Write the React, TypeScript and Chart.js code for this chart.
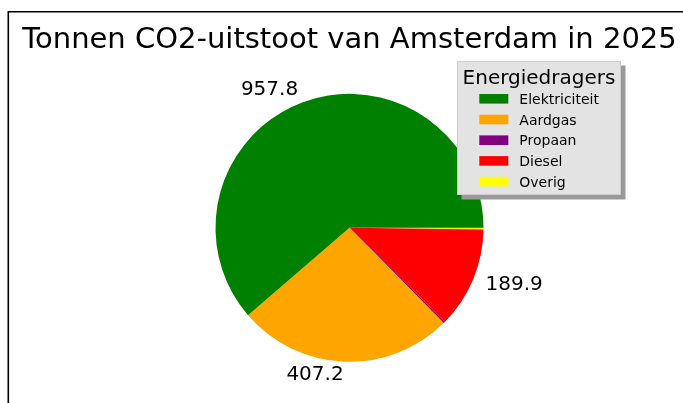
import React, { useEffect, useRef } from "react";
import { Chart, registerables } from "chart.js";

Chart.register(...registerables);

const chartTitle = "Tonnen CO2-uitstoot van Amsterdam in 2025";
const legendTitle = "Energiedragers";
const categories = ["Elektriciteit", "Aardgas", "Propaan", "Diesel", "Overig"];
const emissions = [957.8, 407.2, 3.5, 189.9, 3.3];
const sliceColors = ["#008000", "#FFA500", "#800080", "#FF0000", "#FFFF00"];
const valueLabels = ["957.8", "407.2", "", "189.9", ""];

const FONT = "'DejaVu Sans', sans-serif";

const framePlugin = {
  id: "frame",
  beforeDraw(chart: any) {
    const ctx = chart.ctx;
    ctx.save();
    ctx.fillStyle = "#ffffff";
    ctx.fillRect(0, 0, chart.width, chart.height);
    ctx.strokeStyle = "#000000";
    ctx.lineWidth = 1.6;
    ctx.beginPath();
    ctx.moveTo(8.3, chart.height + 2);
    ctx.lineTo(8.3, 11.8);
    ctx.lineTo(chart.width + 2, 11.8);
    ctx.stroke();
    ctx.restore();
  },
};

const sliceLabelPlugin = {
  id: "sliceLabels",
  afterDatasetsDraw(chart: any) {
    const ctx = chart.ctx;
    const meta = chart.getDatasetMeta(0);
    const texts: string[] = chart.data.datasets[0].valueTexts;
    ctx.save();
    ctx.font = `20px ${FONT}`;
    ctx.fillStyle = "#000000";
    ctx.textBaseline = "middle";
    meta.data.forEach((arc: any, i: number) => {
      const t = texts[i];
      if (!t) return;
      const p = arc.getProps(["x", "y", "startAngle", "endAngle", "outerRadius"], true);
      const mid = (p.startAngle + p.endAngle) / 2;
      const r = p.outerRadius * 1.1;
      const x = p.x + r * Math.cos(mid);
      const y = p.y + r * Math.sin(mid);
      ctx.textAlign = Math.cos(mid) > 0 ? "left" : "right";
      ctx.fillText(t, x, y);
    });
    ctx.restore();
  },
};

const boxLegendPlugin = {
  id: "boxLegend",
  afterDraw(chart: any) {
    const ctx = chart.ctx;
    const bx = 457, by = 61, bw = 164, bh = 134;
    ctx.save();
    ctx.fillStyle = "#9a9a9a";
    ctx.fillRect(bx + 4.5, by + 4.5, bw, bh);
    ctx.fillStyle = "#e3e3e3";
    ctx.fillRect(bx, by, bw, bh);
    ctx.strokeStyle = "#cccccc";
    ctx.lineWidth = 1;
    ctx.strokeRect(bx + 0.5, by + 0.5, bw - 1, bh - 1);
    ctx.fillStyle = "#000000";
    ctx.font = `20px ${FONT}`;
    ctx.textAlign = "center";
    ctx.textBaseline = "alphabetic";
    ctx.fillText(legendTitle, bx + bw / 2, 84);
    ctx.font = `14px ${FONT}`;
    ctx.textAlign = "left";
    categories.forEach((c, i) => {
      const cy = 98.8 + i * 20.7;
      ctx.fillStyle = sliceColors[i];
      ctx.fillRect(479.3, cy - 4.8, 29, 9.6);
      ctx.fillStyle = "#000000";
      ctx.fillText(c, 519.3, cy + 5.2);
    });
    ctx.restore();
  },
};

export default function App() {
  const ref = useRef<HTMLCanvasElement | null>(null);
  useEffect(() => {
    if (!ref.current) return;
    const rev = <T,>(a: T[]) => [...a].reverse();
    const chart = new Chart(ref.current, {
      type: "pie",
      data: {
        labels: rev(categories),
        datasets: [
          {
            data: rev(emissions),
            backgroundColor: rev(sliceColors),
            borderWidth: 0,
            radius: 134,
            valueTexts: rev(valueLabels),
          } as any,
        ],
      },
      options: {
        animation: false,
        responsive: false,
        rotation: 90,
        layout: { padding: { left: 16, right: 0, top: 0, bottom: 10 } },
        plugins: {
          legend: { display: false },
          tooltip: { enabled: false },
          title: {
            display: true,
            text: chartTitle,
            color: "#000000",
            font: { family: FONT, size: 29, weight: "normal", lineHeight: 1.2 },
            padding: { top: 22.6, bottom: 5.2 },
          },
        },
      },
      plugins: [framePlugin, sliceLabelPlugin, boxLegendPlugin],
    });
    return () => chart.destroy();
  }, []);
  return (
    <div style={{ position: "fixed", left: 0, top: 0, width: 683, height: 403 }}>
      <canvas ref={ref} width={683} height={403} style={{ width: 683, height: 403 }} />
    </div>
  );
}
